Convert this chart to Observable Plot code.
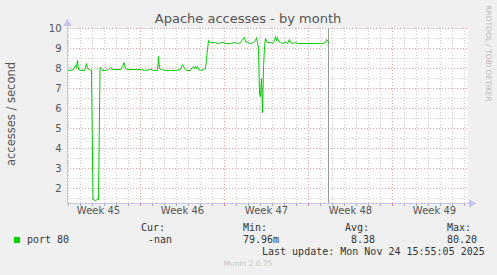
<!DOCTYPE html>
<html>
<head>
<meta charset="utf-8">
<script src="https://cdn.jsdelivr.net/npm/d3@7"></script>
<script src="https://cdn.jsdelivr.net/npm/@observablehq/plot@0.6"></script>
<style>
  html, body { margin: 0; padding: 0; background: #f0f0f0; }
  #wrap { position: relative; width: 497px; height: 275px; background: #f0f0f0; overflow: hidden; font-family: "DejaVu Sans", sans-serif; }
  #wrap svg { position: absolute; left: 0; top: 0; }
  .t { position: absolute; white-space: pre; }
  .mono { font-family: "DejaVu Sans Mono", monospace; font-size: 10px; color: #333; line-height: 12px; }
</style>
</head>
<body>
<div id="wrap"></div>
<script>
// ---- data ----
const title = "Apache accesses - by month";
const yLabel = "accesses / second";
const startUTC = Date.UTC(2025, 10, 2, 22);   // left edge of graph
const endUTC = startUTC + 800 * 3600e3;        // right edge (400 px * 2h)
const nowUTC = Date.UTC(2025, 10, 24, 16);     // last update marker
const yMin = 1.25, yMax = 10;

// hours since left edge, accesses/second
const hours = [0,6,12,16,18,20,22,28,34,38,40,44,48,51,56,60,62,65,68,70,78,82,86,90,96,106,110,113,116,120,132,138,146,156,166,172,180,182,184,188,196,206,216,226,230,232,236,240,246,250,252,254,256,258,260,262,266,272,276,278,282,286,294,302,310,318,326,334,342,346,350,354,356,360,366,372,376,378,380,382,384,386,388,390,392,394,396,400,406,410,414,416,418,420,422,426,432,436,440,444,446,450,456,462,476,496,510,516,518,520,522];
const values = [7.9,7.9,7.95,8.15,8.05,8.4,7.95,7.9,7.9,8.25,8.0,7.95,7.9,1.45,1.4,1.45,1.45,8.05,8.0,7.9,7.9,7.95,8.05,7.95,7.95,7.95,8.1,8.3,8.0,7.95,7.95,7.95,7.95,7.9,7.95,7.9,7.9,8.6,8.0,7.95,7.9,7.9,7.9,7.95,8.2,8.1,7.95,7.9,7.9,8.05,8.1,8.0,8.1,8.0,8.1,7.95,7.9,7.95,8.0,8.5,9.4,9.3,9.3,9.25,9.3,9.25,9.25,9.3,9.25,9.3,9.45,9.55,9.35,9.3,9.25,9.3,9.4,9.55,9.3,9.0,6.7,6.6,7.5,5.8,8.0,9.1,9.5,9.3,9.3,9.25,9.4,9.6,9.4,9.55,9.35,9.3,9.25,9.35,9.25,9.45,9.3,9.25,9.3,9.25,9.25,9.25,9.25,9.3,9.45,9.4,9.3];

const yTickLabels = [2, 3, 4, 5, 6, 7, 8, 9, 10];
const yMinorTicks = [1.5, 2.5, 3.5, 4.5, 5.5, 6.5, 7.5, 8.5, 9.5];
const weekLabels = ["Week 45", "Week 46", "Week 47", "Week 48", "Week 49"];
const weekCenters = [[2025,10,5,12],[2025,10,12,12],[2025,10,19,12],[2025,10,26,12],[2025,11,3,12]];
const weekStarts = [[2025,10,9],[2025,10,16],[2025,10,23],[2025,10,30]]; // Sundays

const legendName = "port 80";
const legendHeads = ["Cur:", "Min:", "Avg:", "Max:"];
const legendVals = ["-nan", "79.96m", "8.38", "80.20"];
const lastUpdate = "Last update: Mon Nov 24 15:55:05 2025";
const munin = "Munin 2.0.75";
const rrdtool = "RRDTOOL / TOBI OETIKER";

// ---- build ----
const series = hours.map((h, i) => ({t: new Date(startUTC + h * 3600e3), v: values[i]}));
const majorX = weekStarts.map(a => new Date(Date.UTC(...a)));
const minorX = [];
for (let d = new Date(Date.UTC(2025, 10, 3)); d <= new Date(endUTC); d = new Date(+d + 864e5)) {
  if (d.getUTCDay() !== 0) minorX.push(d);
}
const weeks = weekLabels.map((w, i) => ({label: w, t: new Date(Date.UTC(...weekCenters[i]))}));

const axisColor = "#c4c4f0";
const minorGrid = "#c8c8c8";
const majorGrid = "#e39b9b";

const chart = Plot.plot({
  width: 497,
  height: 275,
  marginLeft: 67,
  marginRight: 30,
  marginTop: 28,
  marginBottom: 72,
  style: {background: "transparent", overflow: "visible"},
  x: {type: "utc", domain: [new Date(startUTC), new Date(endUTC)], axis: null, label: null},
  y: {domain: [yMin, yMax], axis: null, label: null},
  marks: [
    Plot.frame({fill: "#ffffff", stroke: null}),
    Plot.ruleX(minorX, {stroke: minorGrid, strokeDasharray: "1,2"}),
    Plot.ruleY(yMinorTicks, {stroke: minorGrid, strokeDasharray: "1,2"}),
    Plot.ruleX(majorX, {stroke: majorGrid, strokeDasharray: "1,2"}),
    Plot.ruleY(yTickLabels, {stroke: majorGrid, strokeDasharray: "1,2", insetRight: -2}),
    Plot.axisX({ticks: minorX, tickSize: 3, tickFormat: () => "", stroke: "#aaaaaa", label: null}),
    Plot.axisX({ticks: majorX, tickSize: 3, tickFormat: () => "", stroke: "#e08080", label: null}),
    Plot.ruleX([new Date(nowUTC)], {stroke: "#999999", strokeWidth: 1}),
    Plot.line(series, {x: "t", y: "v", stroke: "#00cc00", strokeWidth: 1}),
    Plot.ruleY([yMin], {stroke: axisColor, insetRight: -4}),
    Plot.ruleX([new Date(startUTC)], {stroke: axisColor, insetTop: -5}),
    Plot.dot([0], {frameAnchor: "top-left", symbol: "triangle", r: 3.2, fill: axisColor, stroke: null, dy: -5}),
    Plot.dot([0], {frameAnchor: "bottom-right", symbol: "triangle", r: 3.2, fill: axisColor, stroke: null, dx: 4, rotate: 90}),
    Plot.text(yTickLabels, {y: d => d, frameAnchor: "left", text: d => String(d), textAnchor: "end", dx: -6, fontSize: 10, fill: "#555555", fontFamily: "DejaVu Sans"}),
    Plot.text(weeks, {x: "t", frameAnchor: "bottom", text: "label", dy: 10, fontSize: 10, fill: "#555555", fontFamily: "DejaVu Sans"})
  ]
});

const wrap = document.getElementById("wrap");
wrap.appendChild(chart);

function place(text, x, yc, cls, style) {
  const el = document.createElement("div");
  el.className = "t " + (cls || "");
  el.textContent = text;
  Object.assign(el.style, style || {});
  el.style.left = x + "px";
  wrap.appendChild(el);
  const h = el.getBoundingClientRect().height;
  el.style.top = (yc - h / 2) + "px";
  return el;
}

// title (centered)
const tEl = place(title, 0, 19, "", {fontSize: "13px", color: "#555", lineHeight: "16px"});
tEl.style.left = (248 - tEl.getBoundingClientRect().width / 2) + "px";

// y label (rotated)
const yl = document.createElement("div");
yl.className = "t";
yl.textContent = yLabel;
Object.assign(yl.style, {fontSize: "11.5px", color: "#555", lineHeight: "14px", left: "0px", top: "0px"});
wrap.appendChild(yl);
const ylw = yl.getBoundingClientRect().width;
yl.style.left = (11 - ylw / 2) + "px";
yl.style.top = (114 - 7) + "px";
yl.style.transform = "rotate(-90deg)";
yl.style.transformOrigin = "50% 50%";

// rrdtool credit (rotated clockwise)
const rr = document.createElement("div");
rr.className = "t";
rr.textContent = rrdtool;
Object.assign(rr.style, {fontSize: "7.5px", color: "#bbb", lineHeight: "9px", left: "0px", top: "0px"});
wrap.appendChild(rr);
const rrw = rr.getBoundingClientRect().width;
rr.style.left = (488.5 - rrw / 2) + "px";
rr.style.top = (5 + rrw / 2 - 4.5) + "px";
rr.style.transform = "rotate(90deg)";
rr.style.transformOrigin = "50% 50%";

// legend
const sq = document.createElement("div");
Object.assign(sq.style, {position: "absolute", left: "14px", top: "237px", width: "6px", height: "6px", background: "#00cc00"});
wrap.appendChild(sq);
place(legendName, 27, 240, "mono");
const headX = [141, 243, 345, 447];
const valX = [148, 243, 351, 447];
legendHeads.forEach((h, i) => place(h, headX[i], 228, "mono"));
legendVals.forEach((v, i) => place(v, valX[i], 240, "mono"));
place(lastUpdate, 262, 252, "mono");
const mu = place(munin, 0, 263, "", {fontSize: "7.5px", color: "#c8c8c8", lineHeight: "9px"});
mu.style.left = (248 - mu.getBoundingClientRect().width / 2) + "px";
</script>
</body>
</html>
